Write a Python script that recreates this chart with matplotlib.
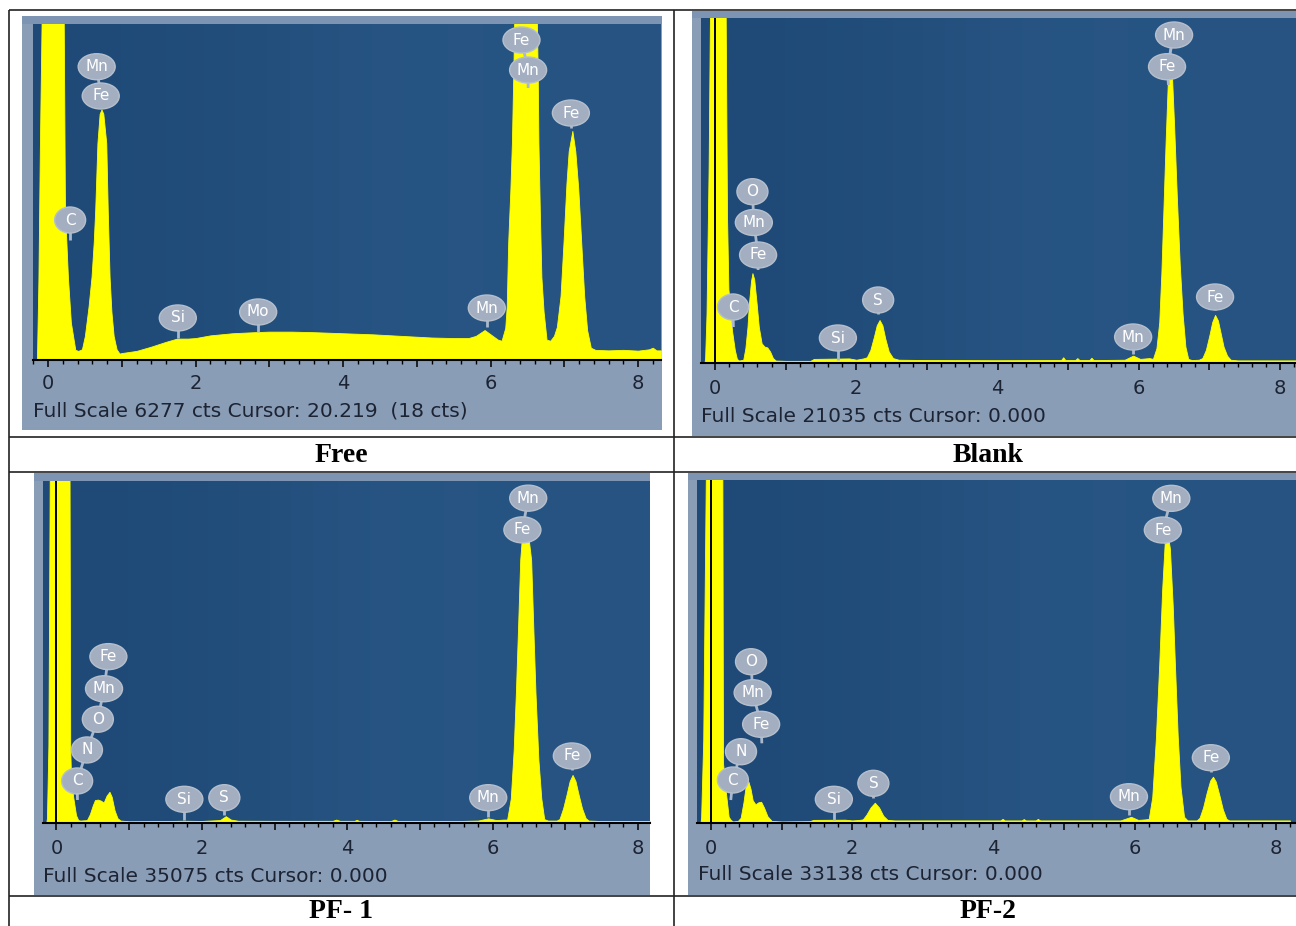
import matplotlib
matplotlib.use("Agg")
import matplotlib.pyplot as plt
import matplotlib.transforms as mtransforms
from matplotlib.patches import Rectangle, Ellipse
from matplotlib.colors import LinearSegmentedColormap
from matplotlib.ticker import MultipleLocator, NullFormatter

# ---------------------------------------------------------------- data
panel_titles = ['Free', 'Blank', 'PF- 1', 'PF-2']
full_scale = [6277, 21035, 35075, 33138]
status_text = ['Full Scale 6277 cts Cursor: 20.219  (18 cts)',
               'Full Scale 21035 cts Cursor: 0.000',
               'Full Scale 35075 cts Cursor: 0.000',
               'Full Scale 33138 cts Cursor: 0.000']
energy_tick_labels = [0, 2, 4, 6, 8]
cursor_keV = [None, 0.0, 0.0, 0.0]

free_energy = [-0.15, -0.13, -0.11, -0.08, 0.21, 0.23, 0.27, 0.31, 0.37, 0.41, 0.46, 0.50, 0.55, 0.59,
               0.62, 0.64, 0.67, 0.70, 0.725, 0.75, 0.79, 0.81, 0.835, 0.86, 0.89, 0.93, 0.97, 1.0, 1.2,
               1.4, 1.6, 1.75, 1.9, 2.0, 2.2, 2.5, 2.8, 3.0, 3.3, 3.6, 4.0, 4.4, 4.8, 5.2, 5.5, 5.7, 5.8,
               5.92, 6.0, 6.1, 6.15, 6.20, 6.22, 6.24, 6.27, 6.29, 6.31, 6.33, 6.62, 6.64, 6.65, 6.67,
               6.69, 6.72, 6.76, 6.81, 6.86, 6.90, 6.95, 6.99, 7.03, 7.06, 7.11, 7.15, 7.19, 7.23, 7.27,
               7.31, 7.36, 7.42, 7.6, 7.8, 8.0, 8.15, 8.2, 8.25, 8.31]
free_counts = [0, 1500, 4000, 7000, 7000, 2800, 1550, 700, 190, 170, 200, 450, 1000, 1550,
               2200, 2800, 4050, 4600, 4680, 4600, 4050, 2800, 1550, 900, 450, 200, 120, 130, 170,
               250, 340, 400, 400, 410, 460, 500, 520, 530, 530, 520, 500, 480, 450, 420, 410, 410, 450,
               560, 480, 380, 360, 600, 1000, 2200, 3200, 4050, 5400, 7000, 7000, 5400, 4050, 2700,
               1550, 900, 380, 360, 450, 620, 1200, 2200, 3300, 3900, 4280, 3900, 3200, 2200, 1200,
               560, 230, 190, 180, 190, 175, 200, 230, 180, 180]

blank_energy = [-0.15, -0.14, -0.12, -0.09, -0.07, 0.15, 0.17, 0.19, 0.21, 0.24, 0.28, 0.31, 0.34, 0.40,
                0.43, 0.46, 0.48, 0.51, 0.53, 0.555, 0.59, 0.62, 0.66, 0.70, 0.74, 0.78, 0.82, 0.86, 1.0,
                1.35, 1.4, 1.9, 2.0, 2.1, 2.15, 2.2, 2.25, 2.29, 2.33, 2.37, 2.41, 2.46, 2.52, 2.6, 3.0,
                4.0, 4.9, 4.93, 4.96, 5.1, 5.13, 5.16, 5.3, 5.33, 5.36, 5.8, 5.92, 6.02, 6.15, 6.20, 6.25,
                6.29, 6.32, 6.35, 6.38, 6.41, 6.44, 6.47, 6.50, 6.54, 6.58, 6.62, 6.66, 6.70, 6.75, 6.85,
                6.90, 6.95, 7.00, 7.04, 7.08, 7.12, 7.16, 7.20, 7.25, 7.30, 7.4, 8.23]
blank_counts = [0, 300, 3000, 12000, 22000, 22000, 9000, 4500, 3600, 2000, 800, 250, 150, 200,
                900, 2200, 3600, 5000, 5480, 5100, 3600, 2200, 1200, 1000, 950, 700, 300, 150, 130,
                130, 250, 280, 200, 280, 350, 800, 1600, 2300, 2620, 2300, 1500, 700, 300, 200, 180,
                170, 180, 350, 180, 180, 300, 180, 180, 320, 180, 200, 450, 250, 300, 250, 900,
                2500, 5500, 9500, 13500, 17000, 19500, 17500, 14500, 10000, 6000, 3000, 1000, 250, 180, 200,
                300, 800, 1700, 2500, 2930, 2600, 1800, 1000, 450, 200, 160, 160]

pf1_energy = [-0.14, -0.13, -0.11, -0.09, 0.18, 0.19, 0.20, 0.23, 0.27, 0.30, 0.33, 0.42, 0.46, 0.50,
              0.53, 0.57, 0.61, 0.65, 0.69, 0.73, 0.76, 0.80, 0.84, 0.88, 1.0, 1.5, 1.74, 2.0, 2.25,
              2.33, 2.40, 2.5, 3.0, 3.8, 3.85, 3.9, 3.95, 4.1, 4.13, 4.16, 4.6, 4.65, 4.7, 5.5, 5.8,
              5.94, 6.05, 6.15, 6.20, 6.25, 6.29, 6.32, 6.35, 6.38, 6.41, 6.45, 6.49, 6.53, 6.56, 6.59,
              6.63, 6.67, 6.71, 6.76, 6.88, 6.92, 6.97, 7.02, 7.06, 7.10, 7.14, 7.18, 7.23, 7.28, 7.32,
              7.5, 8.17]
pf1_counts = [0, 500, 8000, 38000, 38000, 7800, 5000, 2700, 800, 300, 250, 300, 900, 1800,
              2350, 2400, 2300, 2100, 2800, 3200, 2700, 1300, 500, 250, 180, 200, 230, 210, 300,
              700, 350, 230, 220, 220, 350, 220, 220, 220, 330, 220, 200, 350, 200, 200, 250,
              480, 300, 350, 350, 2500, 7500, 13300, 20000, 27000, 30000, 30800, 29500, 27000, 20000, 13300,
              6500, 2500, 400, 250, 250, 400, 1500, 3000, 4300, 4930, 4300, 3000, 1500, 500, 250,
              200, 200]

pf2_energy = [-0.15, -0.14, -0.11, -0.07, 0.16, 0.17, 0.21, 0.25, 0.28, 0.31, 0.38, 0.42, 0.46, 0.49,
              0.53, 0.56, 0.59, 0.63, 0.67, 0.71, 0.75, 0.80, 0.86, 1.0, 1.4, 1.45, 1.9, 2.0, 2.1,
              2.15, 2.2, 2.26, 2.32, 2.38, 2.44, 2.5, 2.6, 4.1, 4.13, 4.16, 4.4, 4.43, 4.46, 4.6, 4.63,
              4.66, 5.8, 5.95, 6.05, 6.15, 6.20, 6.25, 6.30, 6.35, 6.39, 6.43, 6.46, 6.50, 6.54, 6.57,
              6.61, 6.65, 6.70, 6.75, 6.88, 6.92, 6.97, 7.02, 7.07, 7.11, 7.15, 7.20, 7.25, 7.30, 7.34,
              8.2]
pf2_counts = [0, 500, 8000, 36000, 36000, 5800, 3000, 600, 300, 150, 200, 500, 2000, 3500,
              4000, 3300, 2200, 1800, 2000, 2050, 1500, 650, 200, 150, 180, 300, 320, 250, 300,
              350, 800, 1500, 1960, 1500, 700, 300, 250, 250, 400, 250, 250, 380, 250, 250, 400,
              250, 250, 600, 300, 350, 400, 2500, 8000, 15500, 22500, 27500, 28300, 26500, 21000, 15500,
              8500, 3500, 600, 250, 250, 500, 1500, 2900, 4100, 4470, 4000, 2700, 1300, 400, 250,
              250]

# element markers: (names top->bottom, marker energies, marker heights [cts], stem-end energy, stem-end cts)
free_markers = [
    (['C'], [0.30], [2615], 0.30, 2242),
    (['Mn', 'Fe'], [0.66, 0.715], [5479, 4932], 0.715, 4707),
    (['Si'], [1.76], [785], 1.76, 411),
    (['Mo'], [2.85], [897], 2.85, 523),
    (['Mn'], [5.95], [971], 5.95, 616),
    (['Fe', 'Mn'], [6.42, 6.51], [5978, 5417], 6.51, 5081),
    (['Fe'], [7.09], [4614], 7.09, 4334),
]
blank_markers = [
    (['C'], [0.255], [3414], 0.26, 2195),
    (['O', 'Mn', 'Fe'], [0.53, 0.55, 0.61], [10444, 8566, 6585], 0.61, 5670),
    (['Si'], [1.74], [1524], 1.74, 183),
    (['S'], [2.31], [3841], 2.31, 2988),
    (['Mn'], [5.92], [1585], 5.92, 549),
    (['Mn', 'Fe'], [6.50, 6.40], [19998, 18065], 6.42, 16950),
    (['Fe'], [7.08], [4024], 7.08, 3231),
]
pf1_markers = [
    (['Fe', 'Mn', 'O', 'N', 'C'], [0.715, 0.655, 0.57, 0.42, 0.285],
     [17062, 13769, 10640, 7490, 4309], 0.29, 2360),
    (['Si'], [1.76], [2432], 1.76, 308),
    (['S'], [2.31], [2596], 2.31, 820),
    (['Mn'], [5.94], [2596], 5.94, 616),
    (['Mn', 'Fe'], [6.49, 6.41], [33314, 30062], 6.43, 29000),
    (['Fe'], [7.09], [6874], 7.09, 5438),
]
pf2_markers = [
    (['O', 'Mn', 'Fe'], [0.567, 0.59, 0.71], [15582, 12587, 9534], 0.72, 7700),
    (['N', 'C'], [0.425, 0.31], [6888, 4154], 0.28, 2222),
    (['Si'], [1.74], [2289], 1.74, 290),
    (['S'], [2.30], [3835], 2.30, 2415),
    (['Mn'], [5.92], [2540], 5.92, 773),
    (['Mn', 'Fe'], [6.52, 6.40], [31366, 28304], 6.44, 27000),
    (['Fe'], [7.08], [6308], 7.08, 4927),
]

spectra = [(free_energy, free_counts), (blank_energy, blank_counts),
           (pf1_energy, pf1_counts), (pf2_energy, pf2_counts)]
markers = [free_markers, blank_markers, pf1_markers, pf2_markers]

# ---------------------------------------------------------------- layout (pixels)
W, H, DPI = 1296, 926, 100
layouts = [
    dict(frame=(22, 16, 662, 430), dark=(33, 24, 661, 360), zero=48.0, pxs=73.75,
         tick_y=383, text_xy=(33, 411), title_xy=(341, 456)),
    dict(frame=(692, 11, 1296, 436), dark=(701, 18, 1296, 363), zero=715.0, pxs=70.63,
         tick_y=389, text_xy=(701, 417), title_xy=(988, 456)),
    dict(frame=(34, 473, 650, 895), dark=(43, 481, 650, 823), zero=56.4, pxs=72.7,
         tick_y=848, text_xy=(43, 876), title_xy=(341, 912)),
    dict(frame=(688, 473, 1296, 895), dark=(697, 480, 1296, 823), zero=711.0, pxs=70.6,
         tick_y=848, text_xy=(698, 875), title_xy=(988, 912)),
]

FRAME = '#8a9db6'
FRAME_TOP = '#7d95b3'
YELLOW = '#ffff00'
BADGE = '#a3afc1'
STEM = '#a9b8cc'
TXT = '#1c2333'
dark_cmap = LinearSegmentedColormap.from_list('bg', ['#1f4a77', '#234f7d', '#285684'])

fig = plt.figure(figsize=(W / DPI, H / DPI), dpi=DPI)
fig.patch.set_facecolor('white')

over = fig.add_axes([0, 0, 1, 1])
over.set_xlim(0, W)
over.set_ylim(H, 0)
over.axis('off')

line_kw = dict(color='#222222', lw=1.2, solid_capstyle='butt', zorder=5)
over.plot([9, W], [9.5, 9.5], **line_kw)
over.plot([9, 9], [9.5, H], **line_kw)
over.plot([674, 674], [9.5, H], **line_kw)
for yl in (437, 472, 896):
    over.plot([9, W], [yl, yl], **line_kw)

for i, lay in enumerate(layouts):
    fx0, fy0, fx1, fy1 = lay['frame']
    dx0, dy0, dx1, dy1 = lay['dark']
    over.add_patch(Rectangle((fx0, fy0), fx1 - fx0, fy1 - fy0, facecolor=FRAME,
                             edgecolor='none', zorder=1))
    over.add_patch(Rectangle((fx0, fy0), fx1 - fx0, dy0 - fy0, facecolor=FRAME_TOP,
                             edgecolor='none', zorder=1.1))
    over.text(lay['text_xy'][0], lay['text_xy'][1], status_text[i], ha='left', va='center',
              fontsize=14.5, color=TXT, family='DejaVu Sans', zorder=3)
    over.text(lay['title_xy'][0], lay['title_xy'][1], panel_titles[i], ha='center', va='center',
              fontsize=20, fontweight='bold', family='Liberation Serif', color='black', zorder=3)

    ax = fig.add_axes([dx0 / W, 1 - dy1 / H, (dx1 - dx0) / W, (dy1 - dy0) / H])
    z, pxs = lay['zero'], lay['pxs']
    xl = ((dx0 - z) / pxs, (dx1 - z) / pxs)
    ax.set_xlim(*xl)
    ax.set_ylim(0, full_scale[i])
    ax.imshow([[0.0, 0.5, 1.0, 0.8]], cmap=dark_cmap, extent=(xl[0], xl[1], 0, full_scale[i]),
              aspect='auto', interpolation='bicubic', zorder=0)
    for s in ('top', 'left', 'right'):
        ax.spines[s].set_visible(False)
    ax.spines['bottom'].set_color('black')
    ax.spines['bottom'].set_linewidth(1.5)
    ax.spines['bottom'].set_zorder(6)
    ax.set_yticks([])
    ax.xaxis.set_major_locator(MultipleLocator(1))
    ax.xaxis.set_minor_locator(MultipleLocator(0.2))
    ax.xaxis.set_major_formatter(NullFormatter())
    ax.tick_params(axis='x', which='major', direction='out', length=5, width=1.1, color='black')
    ax.tick_params(axis='x', which='minor', direction='out', length=3, width=1.0, color='black')

    cpp = full_scale[i] / (dy1 - dy0)  # counts per pixel
    e, c = spectra[i]
    ax.fill_between(e, c, 0, color=YELLOW, linewidth=0.6, edgecolor=YELLOW, zorder=2)
    if cursor_keV[i] is not None:
        ax.axvline(cursor_keV[i], color='black', lw=1.4, zorder=2.5)

    trans = mtransforms.blended_transform_factory(ax.transData, ax.transAxes)
    ty = -(lay['tick_y'] - dy1) / (dy1 - dy0)
    for t in energy_tick_labels:
        ax.text(t, ty, str(t), transform=trans, ha='center', va='center', fontsize=14,
                color=TXT, family='DejaVu Sans', clip_on=False)

    for names, es, cs, se, sc in markers[i]:
        ax.plot(list(es) + [se], list(cs) + [sc], color=STEM, lw=2, zorder=3,
                solid_capstyle='butt')
        for nm, xe, yc in zip(names, es, cs):
            wpx = 37 if len(nm) > 1 else 31
            ax.add_patch(Ellipse((xe, yc), wpx / pxs, 26 * cpp, facecolor=BADGE,
                                 edgecolor='#b5bfcd', lw=1.0, zorder=4))
            ax.text(xe, yc, nm, ha='center', va='center', fontsize=11, color='white',
                    family='DejaVu Sans', zorder=5)

fig.savefig('out.png', dpi=DPI, facecolor='white')
